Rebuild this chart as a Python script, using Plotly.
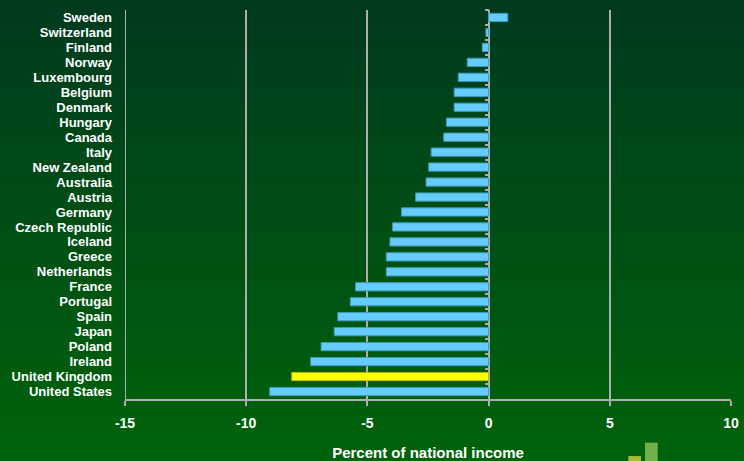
import plotly.graph_objects as go

countries = ["Sweden", "Switzerland", "Finland", "Norway", "Luxembourg", "Belgium",
             "Denmark", "Hungary", "Canada", "Italy", "New Zealand", "Australia",
             "Austria", "Germany", "Czech Republic", "Iceland", "Greece", "Netherlands",
             "France", "Portugal", "Spain", "Japan", "Poland", "Ireland",
             "United Kingdom", "United States"]
values = [0.79, -0.11, -0.26, -0.88, -1.25, -1.42,
          -1.42, -1.74, -1.85, -2.37, -2.47, -2.58,
          -3.01, -3.59, -3.96, -4.07, -4.22, -4.22,
          -5.49, -5.70, -6.22, -6.37, -6.91, -7.34,
          -8.12, -9.03]
highlight = "United Kingdom"
x_ticks = [-15, -10, -5, 0, 5, 10]
x_title = "Percent of national income"

W, H = 744, 461
ML, MR, MT, MB = 125, 13, 9.5, 61.5
PW, PH = W - ML - MR, H - MT - MB

colors = ["#FFFF00" if c == highlight else "#66CCFF" for c in countries]
lines = ["#B8B800" if c == highlight else "#3C9CB8" for c in countries]

fig = go.Figure()
fig.add_trace(go.Bar(
    x=values, y=countries, orientation="h",
    marker=dict(color=colors, line=dict(color=lines, width=1)),
    hoverinfo="x+y",
))
fig.add_trace(go.Scatter(
    x=[0] * len(countries), y=countries, yaxis="y2", mode="markers",
    marker=dict(opacity=0), hoverinfo="skip", showlegend=False,
))

grid_col = "#AEAEAE"

# background gradient (decoration)
shapes = []
top = (0, 58, 31)
bot = (0, 99, 11)
n = 60
y0p = -MB / PH
y1p = 1 + MT / PH
for i in range(n):
    t = i / (n - 1)
    r = round(top[0] + (bot[0] - top[0]) * t)
    g = round(top[1] + (bot[1] - top[1]) * t)
    b = round(top[2] + (bot[2] - top[2]) * t)
    ya = y1p - (y1p - y0p) * i / n
    yb = y1p - (y1p - y0p) * (i + 1) / n
    shapes.append(dict(type="rect", xref="paper", yref="paper",
                       x0=-ML / PW - 0.01, x1=1 + MR / PW + 0.01,
                       y0=yb - 0.002, y1=ya + 0.002,
                       fillcolor=f"rgb({r},{g},{b})", line=dict(width=0),
                       layer="below"))

# left-edge grid line at the axis minimum (plotly hides the edge gridline)
shapes.append(dict(type="line", xref="x", yref="paper", x0=x_ticks[0], x1=x_ticks[0],
                   y0=-5 / PH, y1=1, line=dict(color=grid_col, width=2), layer="below"))

# small logo (decoration) bottom-right
def px2paper(px, py):
    return (px - ML) / PW, (H - MB - py) / PH

for (xa, xb, yt, col) in [(628.3, 641, 456.7, "#A8B832"), (645, 657.7, 443.3, "#72B04C")]:
    p0 = px2paper(xa, H + 2)
    p1 = px2paper(xb, yt)
    shapes.append(dict(type="rect", xref="paper", yref="paper",
                       x0=p0[0], x1=p1[0], y0=p0[1], y1=p1[1],
                       fillcolor=col, line=dict(width=0), layer="above"))

fig.update_layout(
    width=W, height=H,
    margin=dict(l=ML, r=MR, t=MT, b=MB, pad=0, autoexpand=False),
    paper_bgcolor="#00500f",
    plot_bgcolor="rgba(0,0,0,0)",
    showlegend=False,
    bargap=0.45,
    shapes=shapes,
    xaxis=dict(
        range=[-15, 10], tickvals=x_ticks, ticktext=[str(v) for v in x_ticks],
        showgrid=True, gridcolor=grid_col, gridwidth=2,
        zeroline=True, zerolinecolor=grid_col, zerolinewidth=2,
        showline=True, linecolor=grid_col, linewidth=2,
        ticks="outside", ticklen=5, tickwidth=2, tickcolor=grid_col,
        ticklabelstandoff=5,
        tickfont=dict(family="Liberation Sans", size=14, color="white", weight="bold"),
        title=dict(text=x_title, standoff=18,
                   font=dict(family="Liberation Sans", size=15, color="white", weight="bold")),
        automargin=False,
        fixedrange=True,
    ),
    yaxis=dict(
        type="category", categoryorder="array", categoryarray=countries,
        tickmode="array", tickvals=countries, ticktext=countries,
        range=[len(countries) - 0.5, -0.5],
        showgrid=False, zeroline=False, showline=False, ticks="",
        ticklabelstandoff=12,
        tickfont=dict(family="Liberation Sans", size=13, color="white", weight="bold"),
        automargin=False,
        fixedrange=True,
    ),
    yaxis2=dict(
        type="category", categoryorder="array", categoryarray=countries,
        range=[len(countries) - 0.5, -0.5],
        overlaying="y", anchor="free", position=15 / 25, side="left",
        showgrid=False, zeroline=False, showline=False, showticklabels=False,
        ticks="outside", ticklen=4, tickwidth=2, tickcolor=grid_col,
        tickson="boundaries", dtick=1, automargin=False, fixedrange=True,
    ),
)

fig.write_html("out.html")
